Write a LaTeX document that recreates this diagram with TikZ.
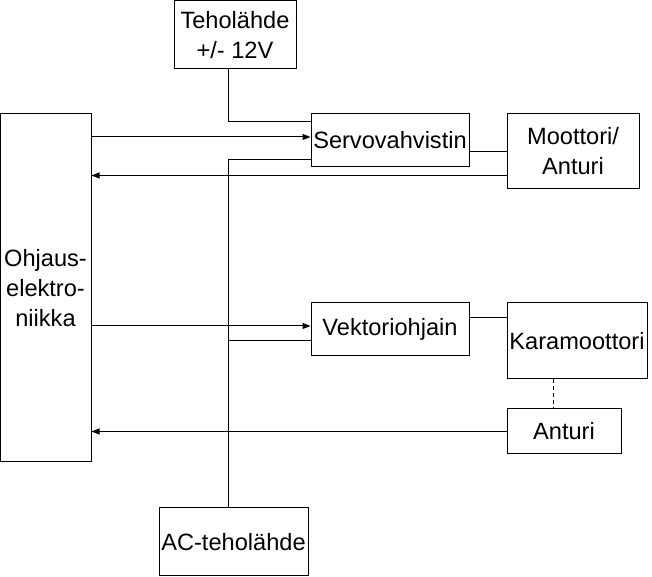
\documentclass[tikz,border=0pt]{standalone}
\usepackage{fontspec}
\setmainfont{Liberation Sans}
\usetikzlibrary{arrows.meta}

\begin{document}
\begin{tikzpicture}[x=1pt,y=1pt,line width=1pt,
    box/.style={draw,inner sep=0pt,align=center,font=\fontsize{23.6}{30}\selectfont},
    arr/.style={-{Triangle[length=8pt,width=6pt]}}]
        \useasboundingbox (0,0) rectangle (652,577);

        % lohkot
        \node[box,minimum width=122,minimum height=68] (teho) at (235,542) {Teholähde\\+/- 12V};
        \node[box,minimum width=91,minimum height=348] (ohjaus) at (45.5,289) {Ohjaus-\\elektro-\\niikka};
        \node[box,minimum width=158,minimum height=53] (servo) at (390,436.5) {Servovahvistin};
        \node[box,minimum width=132,minimum height=75] (moottori) at (573,425.5) {Moottori/\\Anturi};
        \node[box,minimum width=158,minimum height=53] (vektori) at (390,247.5) {Vektoriohjain};
        \node[box,minimum width=140,minimum height=76] (kara) at (577,236) {Karamoottori};
        \node[box,minimum width=114,minimum height=45] (anturi) at (564,145.5) {Anturi};
        \node[box,minimum width=149,minimum height=68] (ac) at (233.5,35) {AC-teholähde};

        \coordinate (s0) at ([yshift=18.5pt]servo.west);
        \coordinate (s1) at ([yshift=3.5pt]servo.west);
        \coordinate (s2) at ([yshift=-19.5pt]servo.west);
        \coordinate (m2) at ([yshift=-24pt]moottori.west);
        \coordinate (v1) at ([yshift=3.5pt]vektori.west);
        \coordinate (v2) at ([yshift=-11.5pt]vektori.west);
        \coordinate (k1) at ([yshift=23pt]kara.west);
        \coordinate (bus) at ([xshift=-5.5pt]ac.north);

        % servopiiri
        \draw ([xshift=-7pt]teho.south) |- (s0);
        \draw[arr] (s1 -| ohjaus.east) -- (s1);
        \draw (moottori.west -| servo.east) -- (moottori.west);
        \draw[arr] (m2) -- (m2 -| ohjaus.east);

        % AC-syotto
        \draw (bus) |- (s2);
        \draw (bus |- v2) -- (v2);

        % karapiiri
        \draw[arr] (v1 -| ohjaus.east) -- (v1);
        \draw (k1 -| vektori.east) -- (k1);
        \draw[dash pattern=on 4pt off 3pt] ([xshift=-24pt]kara.south) -- ([xshift=-24pt]kara.south |- anturi.north);
        \draw[arr] (anturi.west) -- (anturi.west -| ohjaus.east);

    \end{tikzpicture}
\end{document}
